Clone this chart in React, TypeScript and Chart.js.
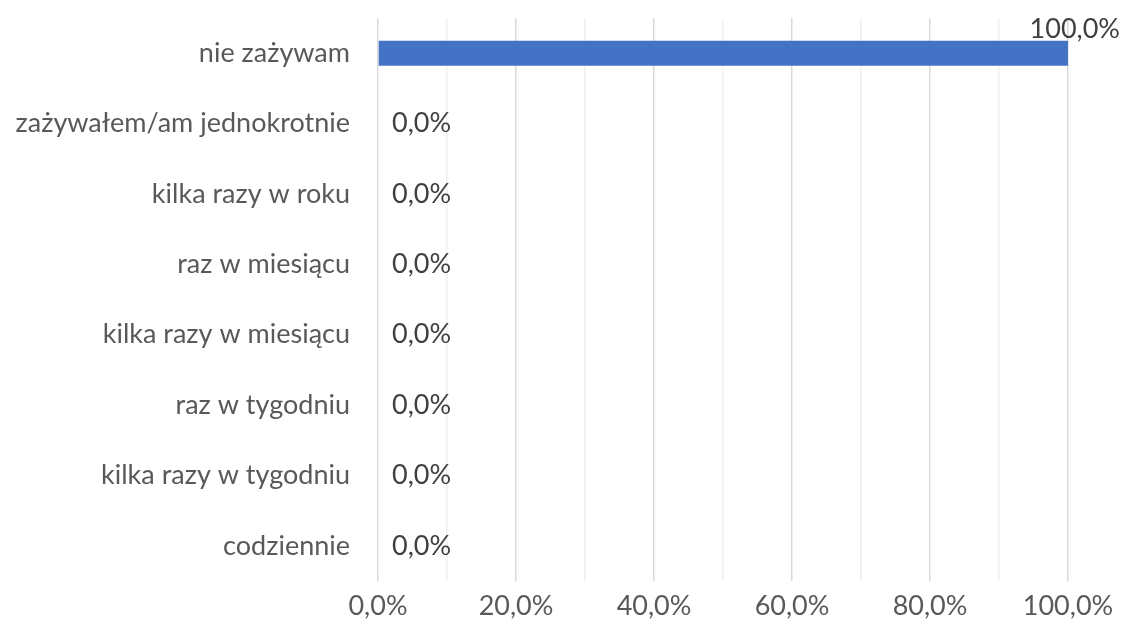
import React, { useEffect, useRef } from "react";
import { Chart, registerables } from "chart.js";

Chart.register(...registerables);

const categories = [
  "nie zażywam",
  "zażywałem/am jednokrotnie",
  "kilka razy w roku",
  "raz w miesiącu",
  "kilka razy w miesiącu",
  "raz w tygodniu",
  "kilka razy w tygodniu",
  "codziennie",
];
const values = [100, 0, 0, 0, 0, 0, 0, 0];
const FONT = "Lato, 'Open Sans', sans-serif";
const FS = 27;

const fmt = (v: number) => v.toFixed(1).replace(".", ",") + "%";

const labelPlugin = {
  id: "valueLabels",
  afterDatasetsDraw(chart: any) {
    const { ctx } = chart;
    const meta = chart.getDatasetMeta(0);
    ctx.save();
    ctx.font = `${FS}px ${FONT}`;
    ctx.fillStyle = "#404040";
    ctx.textBaseline = "middle";
    ctx.textAlign = "left";
    meta.data.forEach((bar: any, i: number) => {
      const text = fmt(values[i]);
      const w = ctx.measureText(text).width;
      let x = bar.x + 14;
      let y = bar.y;
      if (x + w > chart.width - 4) {
        x = chart.width - 15 - w;
        y = bar.y - 24;
      }
      ctx.fillText(text, x, y);
    });
    ctx.restore();
  },
};

export default function App() {
  const ref = useRef<HTMLCanvasElement>(null);
  useEffect(() => {
    const chart = new Chart(ref.current!, {
      type: "bar",
      data: {
        labels: categories,
        datasets: [
          {
            data: values,
            backgroundColor: "#4472C4",
            barPercentage: 0.355,
            categoryPercentage: 1,
          },
        ],
      },
      options: {
        indexAxis: "y",
        animation: false,
        responsive: false,
        layout: { padding: { top: 18, right: 67, left: 0, bottom: 0 } },
        plugins: { legend: { display: false }, tooltip: { enabled: false } },
        scales: {
          x: {
            min: 0,
            max: 100,
            border: { display: false },
            grid: {
              drawTicks: false,
              color: (c: any) =>
                c.tick && c.tick.value % 20 === 0 ? "#d9d9d9" : "#efefef",
              lineWidth: 1.5,
            },
            ticks: {
              stepSize: 10,
              autoSkip: false,
              maxRotation: 0,
              padding: 9,
              color: "#595959",
              font: { family: FONT, size: FS },
              callback: (v: any) => (Number(v) % 20 === 0 ? fmt(Number(v)) : ""),
            },
            afterFit: (s: any) => {
              s.height = 49;
            },
          },
          y: {
            border: { display: false },
            grid: { display: false, drawTicks: false },
            ticks: {
              padding: 28,
              color: "#595959",
              font: { family: FONT, size: FS },
            },
            afterFit: (s: any) => {
              s.width = 378;
              s.paddingTop = 0;
              s.paddingBottom = 0;
            },
          },
        },
      },
      plugins: [labelPlugin],
    });
    return () => chart.destroy();
  }, []);
  return (
    <div style={{ position: "fixed", left: 0, top: 0, width: 1135, height: 630, background: "#fff" }}>
      <canvas ref={ref} width={1135} height={630} />
    </div>
  );
}
